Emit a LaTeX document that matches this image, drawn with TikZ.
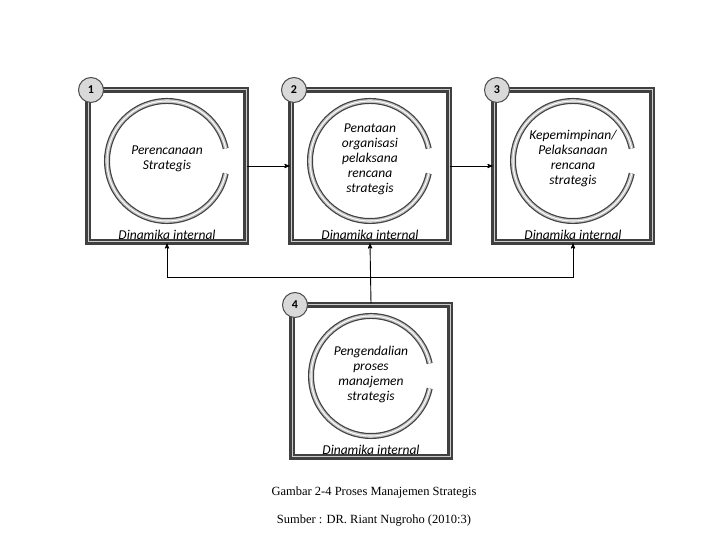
\documentclass[tikz,border=0pt]{standalone}
\usepackage{fontspec}
\setmainfont{Liberation Serif}
\newfontfamily\stepfont{Carlito}
\usetikzlibrary{arrows}

\tikzset{
  stepbox/.style={draw=black!75, line width=2.6pt, double=black!20, double distance=1pt},
  ring/.style={draw=black!75, line width=6pt},
  ringmid/.style={draw=black!25, line width=3.6pt},
  ringin/.style={draw=white, line width=1pt},
  badge/.style={circle, draw=black!70, line width=1pt, fill=black!15, minimum size=25pt, inner sep=0pt, font=\stepfont\bfseries\large},
  steptext/.style={align=center, font=\stepfont\itshape\fontsize{13.5}{15}\selectfont, text width=100pt},
  dyntext/.style={font=\stepfont\itshape\fontsize{13.5}{15}\selectfont, inner sep=1pt},
  flow/.style={->, >=stealth', line width=0.9pt}
}

\newcommand{\stepunit}[5]{% name, x, y, number, text
  \node[stepbox, minimum width=158pt, minimum height=152pt] (#1) at (#2,#3) {};
  \draw[ring] ([shift={(#2,#3+5)}]12:60pt) arc (12:348:60pt);
  \draw[ringmid] ([shift={(#2,#3+5)}]12:60pt) arc (12:348:60pt);
  \draw[ringin] ([shift={(#2,#3+5)}]12:60pt) arc (12:348:60pt);
  \node[steptext] (#1-t) at (#2,#3+7) {#5};
  \node[dyntext, anchor=south] (#1-d) at (#2,#3-75) {Dinamika internal};
  \node[badge] (#1-n) at (#2-76,#3+76) {#4};
}

\begin{document}
\begin{tikzpicture}[x=1pt,y=1pt]
  \useasboundingbox (0,0) rectangle (720,540);
  \stepunit{p1}{167}{374}{1}{Perencanaan\\Strategis}
  \stepunit{p2}{370}{374}{2}{Penataan\\organisasi\\pelaksana\\rencana\\strategis}
  \stepunit{p3}{573}{374}{3}{Kepemimpinan/\\Pelaksanaan\\rencana\\strategis}
  \stepunit{p4}{371}{159}{4}{Pengendalian\\proses\\manajemen\\strategis}

  \draw[flow] (p1.east) -- (p2.west);
  \draw[flow] (p2.east) -- (p3.west);
  \coordinate (fb) at (p4.north |- 0,263);
  \draw[flow] (p4.north) -- (p2.south);
  \draw[flow] (fb) -| (p1.south);
  \draw[flow] (fb) -| (p3.south);

  \node[font=\fontsize{12.5}{14}\selectfont] (cap1) at (374,47) {Gambar 2-4 Proses Manajemen Strategis};
  \node[font=\fontsize{12.5}{14}\selectfont] (cap2) at (374,19) {Sumber : DR. Riant Nugroho (2010:3)};
\end{tikzpicture}
\end{document}
